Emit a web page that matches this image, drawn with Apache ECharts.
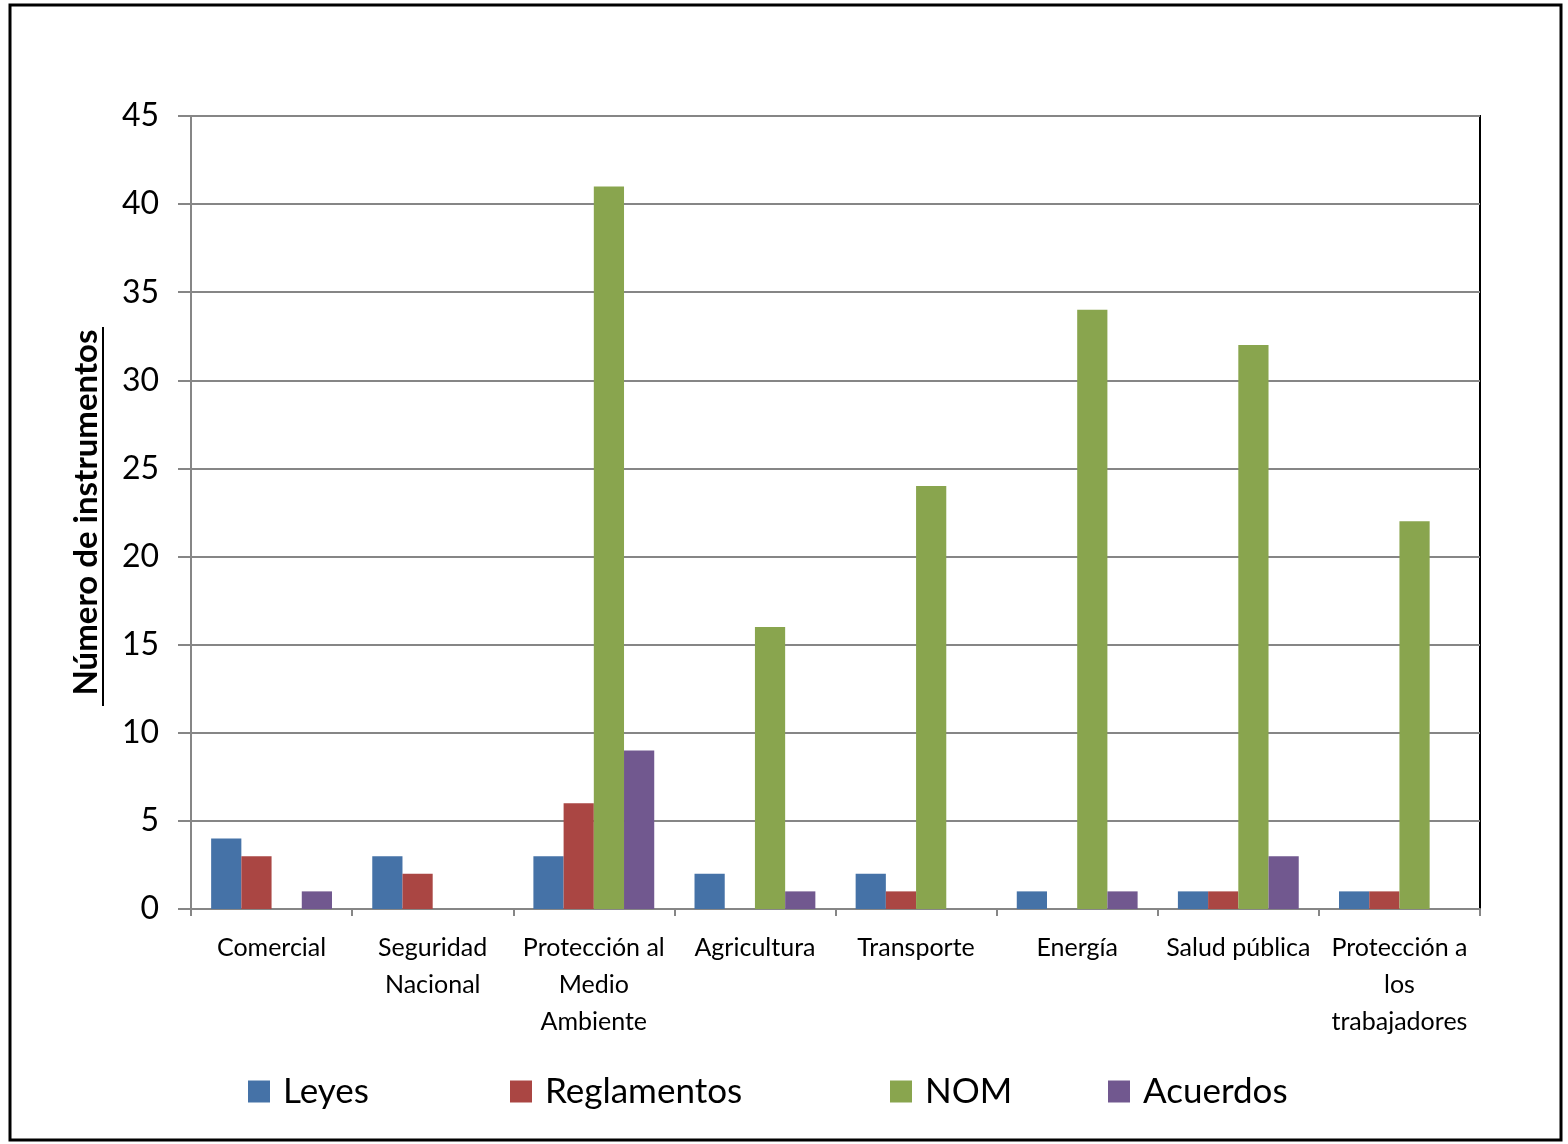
<!DOCTYPE html>
<html>
<head>
<meta charset="utf-8">
<script src="https://cdn.jsdelivr.net/npm/echarts@6/dist/echarts.min.js"></script>
<style>
  html, body { margin: 0; padding: 0; background: #fff; }
  #container { width: 1568px; height: 1144px; }
</style>
</head>
<body>
<div id="container"></div>
<script>
let dom = document.getElementById("container");
let myChart = echarts.init(dom);

// categories (wrapped like the original axis labels)
const categories = [
    'Comercial',
    'Seguridad\nNacional',
    'Protección al\nMedio\nAmbiente',
    'Agricultura',
    'Transporte',
    'Energía',
    'Salud pública',
    'Protección a\nlos\ntrabajadores'
];

const leyes       = [4, 3, 3, 2, 2, 1, 1, 1];
const reglamentos = [3, 2, 6, 0, 1, 0, 1, 1];
const nom         = [0, 0, 41, 16, 24, 34, 32, 22];
const acuerdos    = [1, 0, 9, 1, 0, 1, 3, 0];

const seriesNames = ['Leyes', 'Reglamentos', 'NOM', 'Acuerdos'];
const seriesColors = ['#4572A7', '#AA4643', '#89A54E', '#71588F'];
const legendLeft = [248, 510, 890, 1108];

const fontFamily = 'Lato, "Open Sans", sans-serif';
const gridColor = '#868686';

function makeSeries(name, values, color) {
    return {
        name: name,
        type: 'bar',
        data: values,
        barGap: '0%',
        barCategoryGap: '25%',
        itemStyle: {color: color},
        emphasis: {disabled: true}
    };
}

let option = {
    animation: false,
    backgroundColor: '#ffffff',
    textStyle: {fontFamily: fontFamily},
    grid: {
        left: 191,
        right: 88,
        top: 116,
        bottom: 235,
        show: true,
        borderColor: '#000000',
        borderWidth: 2
    },
    legend: seriesNames.map(function (name, i) {
        return {
            data: [name],
            left: legendLeft[i],
            top: 1074,
            padding: 0,
            itemWidth: 22,
            itemHeight: 22,
            icon: 'rect',
            textStyle: {
                fontFamily: fontFamily,
                fontSize: 35,
                color: '#000000',
                padding: [0, 0, 0, 8]
            }
        };
    }),
    xAxis: {
        type: 'category',
        data: categories,
        axisLine: {lineStyle: {color: gridColor, width: 2}},
        axisTick: {
            show: true,
            length: 7,
            alignWithLabel: false,
            lineStyle: {color: gridColor, width: 2}
        },
        axisLabel: {
            interval: 0,
            margin: 20,
            fontSize: 25,
            lineHeight: 37,
            color: '#000000',
            fontFamily: fontFamily
        }
    },
    yAxis: {
        type: 'value',
        min: 0,
        max: 45,
        interval: 5,
        name: 'Número de instrumentos',
        nameLocation: 'middle',
        nameRotate: 90,
        nameGap: 88,
        nameTextStyle: {
            fontSize: 33,
            fontWeight: 'bold',
            color: '#000000',
            fontFamily: fontFamily
        },
        axisLine: {show: true, lineStyle: {color: gridColor, width: 2}},
        axisTick: {show: true, length: 13, lineStyle: {color: gridColor, width: 2}},
        axisLabel: {
            margin: 32,
            fontSize: 32,
            color: '#000000',
            fontFamily: fontFamily
        },
        splitLine: {lineStyle: {color: gridColor, width: 2}}
    },
    graphic: [
        {
            type: 'rect',
            shape: {x: 10, y: 5, width: 1551, height: 1135},
            style: {fill: 'none', stroke: '#000000', lineWidth: 3},
            z: 100
        },
        {
            // underline of the axis title
            type: 'line',
            shape: {x1: 103, y1: 327, x2: 103, y2: 706},
            style: {stroke: '#000000', lineWidth: 2}
        }
    ],
    series: [
        makeSeries(seriesNames[0], leyes, seriesColors[0]),
        makeSeries(seriesNames[1], reglamentos, seriesColors[1]),
        makeSeries(seriesNames[2], nom, seriesColors[2]),
        makeSeries(seriesNames[3], acuerdos, seriesColors[3])
    ]
};

if (option && typeof option === "object") {
    myChart.setOption(option, true);
}
</script>
</body>
</html>
